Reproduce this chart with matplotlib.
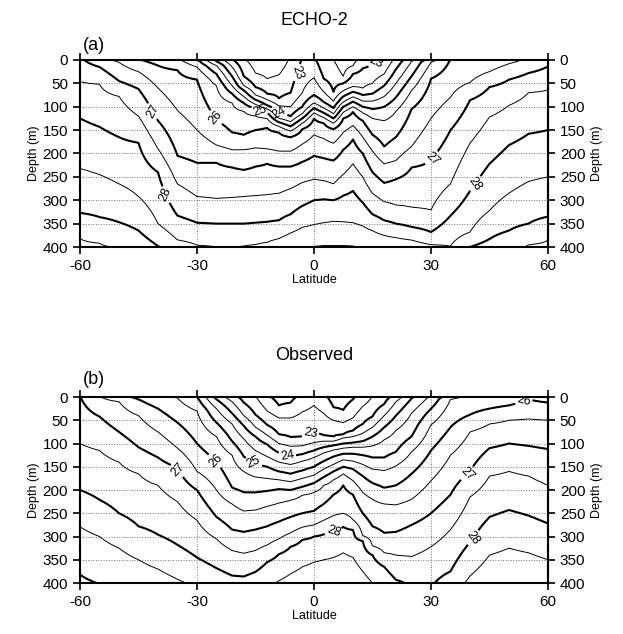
import numpy as np
import matplotlib.pyplot as plt

plt.rcParams['font.family'] = ['Liberation Sans', 'DejaVu Sans']
plt.rcParams['axes.unicode_minus'] = False

lats = [-60, -55, -50, -45, -40, -35, -30, -25, -21, -18, -15, -12, -9, -6, -3, 0,
        2.5, 5, 7.5, 10, 12.5, 15, 18, 21, 25, 30, 35, 40, 45, 50, 55, 60]

# ECHO-2: depth (m) of each sigma-theta surface, one row per level
# (negative = outcropped above the sea surface, > 400 = below the plot)
levels_a = [22.5, 23.0, 23.5, 24.0, 24.5, 25.0, 25.5, 26.0, 26.5, 27.0, 27.5, 28.0, 28.5, 29.0, 29.5]
echo_depth = [
    [-55, -55, -55, -55, -55, -50, -45, -40, -30, -5, 28, 40, 32, -10, -20, -25, -15, -2, 35, 12, -5, -20, -30, -40, -45, -50, -55, -55, -55, -55, -55, -55],
    [-50, -50, -50, -50, -45, -40, -35, -28, -2, 35, 58, 72, 82, 70, -6, -10, 40, 68, 50, 30, 18, 8, -3, -20, -30, -40, -45, -50, -50, -50, -50, -50],
    [-45, -45, -45, -45, -40, -35, -30, -20, 15, 55, 75, 85, 98, 100, 70, 38, 68, 88, 66, 57, 60, 50, 30, -8, -20, -30, -40, -45, -45, -45, -45, -45],
    [-40, -40, -40, -40, -35, -30, -22, 3, 35, 65, 85, 97, 115, 120, 100, 75, 90, 103, 78, 68, 75, 72, 55, 20, -8, -20, -30, -35, -40, -40, -40, -40],
    [-35, -35, -35, -35, -30, -25, -15, 12, 55, 78, 95, 105, 125, 132, 115, 92, 103, 115, 90, 79, 88, 88, 78, 50, 3, -15, -25, -30, -35, -35, -35, -35],
    [-30, -30, -30, -30, -25, -20, -3, 30, 72, 92, 103, 112, 133, 142, 125, 103, 113, 125, 100, 89, 100, 105, 100, 80, 35, -8, -20, -25, -30, -30, -30, -30],
    [-25, -25, -25, -25, -20, -5, 15, 55, 92, 110, 120, 125, 142, 152, 135, 113, 123, 135, 112, 100, 113, 125, 130, 110, 65, 5, -15, -20, -25, -25, -25, -25],
    [-20, -20, -15, -2, 12, 22, 42, 128, 155, 160, 150, 145, 155, 165, 148, 125, 135, 148, 125, 111, 130, 160, 185, 165, 105, 40, -3, -10, -15, -20, -20, -20],
    [-15, -12, 5, 25, 60, 108, 150, 182, 192, 192, 188, 190, 195, 195, 180, 160, 168, 178, 155, 140, 165, 195, 222, 215, 185, 125, 80, 48, 25, 8, -5, -10],
    [-8, 15, 45, 62, 130, 205, 220, 220, 230, 235, 228, 222, 228, 228, 218, 205, 210, 215, 192, 170, 200, 240, 263, 255, 230, 214, 150, 86, 58, 42, 28, 14],
    [46, 52, 78, 120, 190, 265, 292, 296, 294, 292, 290, 288, 285, 275, 262, 255, 258, 265, 245, 222, 250, 285, 303, 310, 315, 321, 265, 178, 122, 97, 70, 64],
    [125, 143, 165, 177, 240, 333, 348, 350, 350, 350, 348, 346, 343, 330, 312, 300, 298, 300, 290, 280, 305, 330, 343, 350, 357, 368, 333, 280, 222, 182, 158, 150],
    [232, 245, 265, 292, 350, 385, 396, 400, 400, 398, 395, 390, 382, 370, 358, 352, 348, 345, 346, 348, 355, 365, 375, 380, 385, 395, 398, 368, 322, 285, 260, 250],
    [327, 336, 347, 365, 398, 412, 420, 420, 418, 418, 418, 415, 412, 410, 405, 400, 398, 398, 398, 399, 405, 412, 418, 420, 420, 418, 410, 400, 383, 365, 350, 335],
    [382, 392, 402, 420, 440, 450, 460, 460, 460, 460, 460, 460, 460, 460, 460, 450, 450, 450, 450, 450, 460, 460, 460, 460, 460, 460, 450, 440, 425, 405, 395, 385],
]

# Observed
levels_b = [22.0, 22.5, 23.0, 23.5, 24.0, 24.5, 25.0, 25.5, 26.0, 26.5, 27.0, 27.5, 28.0, 28.5, 29.0]
obs_depth = [
    [-55, -55, -55, -55, -55, -55, -50, -45, -40, -35, -25, -5, 18, 12, -10, -20, -10, 22, 28, 5, -10, -25, -35, -40, -45, -50, -55, -55, -55, -55, -55, -55],
    [-45, -45, -45, -45, -45, -45, -40, -35, -30, -20, -2, 30, 45, 45, 32, 18, 35, 50, 55, 45, 20, -2, -20, -30, -35, -40, -45, -45, -45, -45, -45, -45],
    [-40, -40, -40, -40, -40, -40, -35, -25, -8, 12, 38, 60, 80, 86, 85, 77, 82, 85, 80, 72, 58, 42, 15, -8, -25, -35, -40, -40, -40, -40, -40, -40],
    [-35, -35, -35, -35, -35, -35, -30, -12, 10, 40, 65, 82, 100, 106, 105, 98, 95, 95, 88, 85, 78, 65, 40, 10, -15, -30, -35, -35, -35, -35, -35, -35],
    [-30, -30, -30, -30, -30, -25, -20, 5, 35, 62, 85, 102, 120, 128, 123, 115, 108, 104, 100, 98, 95, 85, 65, 40, 3, -20, -30, -30, -30, -30, -30, -30],
    [-25, -25, -25, -25, -25, -20, -10, 25, 58, 90, 115, 128, 140, 145, 138, 130, 120, 114, 110, 108, 108, 105, 92, 72, 35, -5, -20, -25, -25, -25, -25, -25],
    [-20, -20, -20, -20, -18, -12, -1, 55, 95, 128, 143, 150, 160, 165, 158, 150, 138, 128, 122, 122, 125, 130, 130, 118, 85, 25, -10, -20, -20, -20, -20, -20],
    [-15, -15, -15, -15, -10, 2, 30, 85, 125, 160, 172, 175, 178, 182, 175, 168, 155, 145, 135, 138, 145, 155, 158, 148, 118, 60, 5, -15, -15, -15, -15, -15],
    [-10, -10, -8, 5, 25, 55, 100, 138, 195, 205, 205, 202, 198, 200, 193, 185, 172, 160, 150, 155, 170, 185, 195, 190, 165, 115, 65, 38, 25, 18, 5, 12],
    [-5, -2, 10, 40, 75, 110, 160, 200, 230, 245, 243, 235, 228, 222, 211, 205, 190, 178, 165, 180, 205, 220, 230, 232, 220, 180, 125, 75, 58, 50, 47, 50],
    [-3, 42, 75, 108, 130, 152, 200, 258, 285, 290, 285, 278, 268, 258, 250, 245, 230, 210, 190, 210, 250, 278, 292, 290, 275, 250, 210, 160, 110, 100, 105, 112],
    [100, 115, 140, 165, 190, 225, 265, 305, 330, 336, 330, 318, 305, 292, 280, 275, 265, 255, 250, 264, 298, 320, 335, 340, 343, 322, 285, 215, 170, 160, 170, 190],
    [200, 221, 250, 278, 296, 318, 345, 368, 384, 386, 376, 355, 338, 322, 307, 300, 295, 290, 279, 286, 310, 340, 365, 393, 410, 410, 375, 312, 258, 243, 255, 272],
    [279, 300, 325, 350, 370, 392, 410, 425, 430, 430, 425, 410, 395, 380, 365, 355, 350, 345, 335, 345, 375, 400, 420, 430, 440, 440, 425, 385, 340, 325, 335, 350],
    [382, 402, 420, 440, 450, 460, 470, 470, 470, 470, 470, 470, 460, 450, 440, 430, 425, 420, 410, 420, 440, 460, 470, 470, 470, 470, 470, 460, 430, 420, 420, 430],
]

# where the contour labels sit (lat, depth)
labels_a = {23: [(-5.0, 25), (16.0, 5)], 24: [(-9.5, 117)], 25: [(-13.8, 105)],
            26: [(-25.5, 125)], 27: [(-41.5, 110), (30.5, 212)], 28: [(-38.5, 290), (41.0, 262)]}
labels_b = {23: [(-1.0, 77)], 24: [(-6.9, 127)], 25: [(-15.6, 143)],
            26: [(-25.4, 138), (53.7, 6)], 27: [(-34.4, 154), (39.4, 165)], 28: [(5.0, 290), (40.8, 302)]}

depth_grid = np.arange(0, 401, 2)


def make_field(levels, rows):
    # density on a (depth, lat) grid from the depth of each level in every column
    d = np.array(rows, dtype=float)
    lev = np.concatenate([[levels[0] - 0.5], levels, [levels[-1] + 0.5]])
    f = np.empty((depth_grid.size, len(lats)))
    for j in range(len(lats)):
        col = np.concatenate([[d[0, j] - 60], d[:, j], [d[-1, j] + 150]])
        f[:, j] = np.interp(depth_grid, col, lev)
    return f


def panel(ax, levels, rows, labels):
    f = make_field(levels, rows)
    thin = [l for l in levels if l != int(l)]
    thick = [l for l in levels if l == int(l) and int(l) not in labels]
    ax.contour(lats, depth_grid, f, levels=thin, colors='k', linewidths=0.7)
    if thick:
        ax.contour(lats, depth_grid, f, levels=thick, colors='k', linewidths=1.5)
    # labelled levels get their own contour set so clabel picks the right line
    for lev, pos in labels.items():
        cs = ax.contour(lats, depth_grid, f, levels=[lev], colors='k', linewidths=1.5)
        ax.clabel(cs, manual=pos, fmt='%d', fontsize=9, inline=True, inline_spacing=2)

    ax.set_xlim(-60, 60)
    ax.set_ylim(400, 0)
    ax.set_xticks([-60, -30, 0, 30, 60])
    ax.set_yticks(range(0, 401, 50))
    ax.grid(True, linestyle=':', linewidth=0.7, color='0.45')
    ax.set_axisbelow(True)
    ax.tick_params(direction='out', top=True, labelsize=11, width=1.2, length=5)
    for s in ax.spines.values():
        s.set_linewidth(1.5)
    ax.set_xlabel('Latitude', fontsize=9, labelpad=1)
    ax.set_ylabel('Depth (m)', fontsize=9, labelpad=2)
    sec = ax.secondary_yaxis('right')
    sec.set_yticks(range(0, 401, 50))
    sec.tick_params(direction='out', labelsize=11, width=1.2, length=5)
    sec.spines['right'].set_linewidth(1.5)
    sec.set_ylabel('Depth (m)', fontsize=9, labelpad=4)


fig = plt.figure(figsize=(6.23, 6.34), dpi=100)
ax_a = fig.add_axes([0.1284, 0.6104, 0.7512, 0.2950])
ax_b = fig.add_axes([0.1284, 0.0804, 0.7512, 0.2934])

panel(ax_a, levels_a, echo_depth, labels_a)
panel(ax_b, levels_b, obs_depth, labels_b)

fig.text(0.504, 0.968, 'ECHO-2', ha='center', va='center', fontsize=13)
fig.text(0.133, 0.929, '(a)', ha='left', va='center', fontsize=13)
fig.text(0.504, 0.440, 'Observed', ha='center', va='center', fontsize=13)
fig.text(0.133, 0.401, '(b)', ha='left', va='center', fontsize=13)

fig.savefig('out.png', dpi=100)
